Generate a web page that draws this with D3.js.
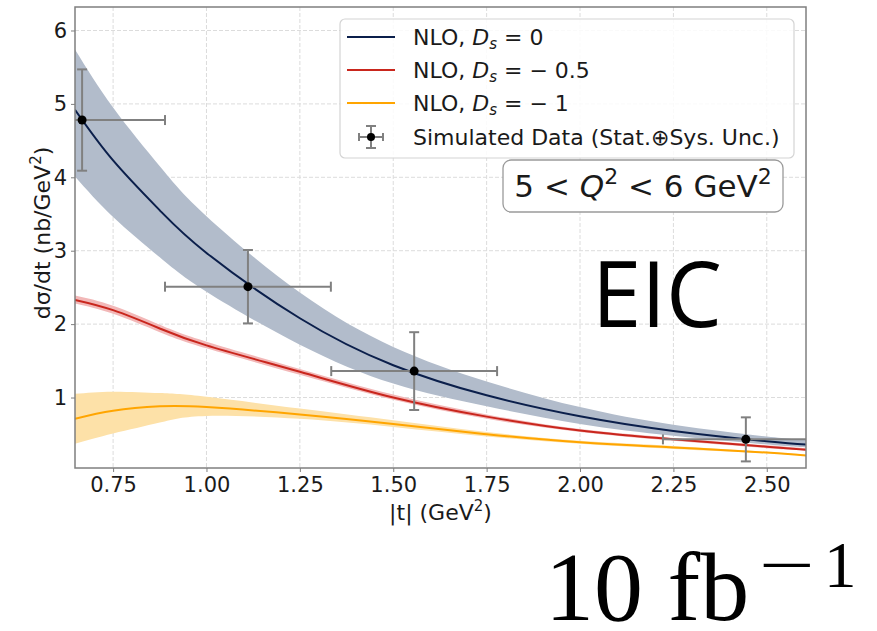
<!DOCTYPE html>
<html>
<head>
<meta charset="utf-8">
<script src="https://cdn.jsdelivr.net/npm/d3@7"></script>
<style>
  body { margin: 0; background: #fff; }
  text { font-family: "DejaVu Sans", sans-serif; fill: #1a1a1a; }
</style>
</head>
<body>
<svg id="chart" width="877" height="631"></svg>
<script>
const tGrid = [0.648, 0.75, 0.875, 1.0, 1.25, 1.5, 1.75, 2.0, 2.25, 2.5, 2.605];

// NLO, Ds = 0
const ds0Mid = [4.92, 4.23, 3.55, 2.97, 2.08, 1.44, 1.03, 0.745, 0.545, 0.405, 0.36];
const ds0Lo  = [4.01, 3.46, 2.91, 2.44, 1.72, 1.19, 0.88, 0.64, 0.48, 0.36, 0.32];
const ds0Hi  = [5.74, 4.95, 4.15, 3.47, 2.43, 1.69, 1.22, 0.87, 0.63, 0.47, 0.42];

// NLO, Ds = -0.5
const ds05Mid = [2.33, 2.19, 1.94, 1.71, 1.35, 1.00, 0.74, 0.55, 0.43, 0.33, 0.29];
const ds05Lo  = [2.28, 2.14, 1.89, 1.67, 1.31, 0.97, 0.71, 0.53, 0.41, 0.31, 0.28];
const ds05Hi  = [2.39, 2.25, 1.99, 1.76, 1.39, 1.04, 0.77, 0.57, 0.45, 0.35, 0.31];

// NLO, Ds = -1
const ds1Mid = [0.71, 0.82, 0.88, 0.87, 0.77, 0.64, 0.50, 0.39, 0.32, 0.25, 0.21];
const ds1Lo  = [0.37, 0.51, 0.66, 0.75, 0.71, 0.60, 0.47, 0.37, 0.30, 0.24, 0.20];
const ds1Hi  = [1.05, 1.08, 1.06, 1.01, 0.85, 0.69, 0.53, 0.41, 0.34, 0.26, 0.22];

// simulated data
const dataT    = [0.667, 1.111, 1.556, 2.444];
const dataTErr = [0.222, 0.222, 0.222, 0.222];
const dataY    = [4.78, 2.51, 1.36, 0.43];
const dataYErr = [0.69, 0.50, 0.53, 0.30];

const xTicks = [0.75, 1.0, 1.25, 1.5, 1.75, 2.0, 2.25, 2.5];
const yTicks = [1, 2, 3, 4, 5, 6];

const svg = d3.select("#chart");
const pLeft = 75, pRight = 806, pTop = 7, pBottom = 468;

const x = d3.scaleLinear().domain([0.648, 2.605]).range([pLeft, pRight]);
const y = d3.scaleLinear().domain([0.04, 6.32]).range([pBottom, pTop]);

svg.append("clipPath").attr("id", "plotclip")
  .append("rect").attr("x", pLeft).attr("y", pTop)
  .attr("width", pRight - pLeft).attr("height", pBottom - pTop);

// grid
const grid = svg.append("g");
grid.selectAll(".gx").data(xTicks).enter().append("line")
  .attr("x1", d => x(d)).attr("x2", d => x(d))
  .attr("y1", pTop).attr("y2", pBottom)
  .attr("stroke", "#dcdcdc").attr("stroke-dasharray", "4,2");
grid.selectAll(".gy").data(yTicks).enter().append("line")
  .attr("x1", pLeft).attr("x2", pRight)
  .attr("y1", d => y(d)).attr("y2", d => y(d))
  .attr("stroke", "#dcdcdc").attr("stroke-dasharray", "4,2");

const plot = svg.append("g").attr("clip-path", "url(#plotclip)");

function series(mid, lo, hi, line, band) {
  const rows = tGrid.map((t, i) => ({ t: t, m: mid[i], lo: lo[i], hi: hi[i] }));
  plot.append("path").datum(rows)
    .attr("fill", band)
    .attr("d", d3.area().curve(d3.curveNatural)
      .x(d => x(d.t)).y0(d => y(d.lo)).y1(d => y(d.hi)));
  plot.append("path").datum(rows)
    .attr("fill", "none").attr("stroke", line).attr("stroke-width", 2)
    .attr("d", d3.line().curve(d3.curveNatural)
      .x(d => x(d.t)).y(d => y(d.m)));
}

series(ds0Mid, ds0Lo, ds0Hi, "#0b1f4b", "#b2bccb");
series(ds05Mid, ds05Lo, ds05Hi, "#c9261d", "#f2b8b8");
series(ds1Mid, ds1Lo, ds1Hi, "#ffa500", "#fde1a8");

// error bars
const errColor = "#808080";
const pts = dataT.map((t, i) => ({ t: t, dt: dataTErr[i], v: dataY[i], dv: dataYErr[i] }));
const eb = plot.selectAll(".eb").data(pts).enter().append("g");
eb.append("line")
  .attr("x1", d => x(d.t - d.dt)).attr("x2", d => x(d.t + d.dt))
  .attr("y1", d => y(d.v)).attr("y2", d => y(d.v));
eb.append("line")
  .attr("x1", d => x(d.t)).attr("x2", d => x(d.t))
  .attr("y1", d => y(d.v - d.dv)).attr("y2", d => y(d.v + d.dv));
[-1, 1].forEach(s => {
  eb.append("line")
    .attr("x1", d => x(d.t) - 5).attr("x2", d => x(d.t) + 5)
    .attr("y1", d => y(d.v + s * d.dv)).attr("y2", d => y(d.v + s * d.dv));
  eb.append("line")
    .attr("x1", d => x(d.t + s * d.dt)).attr("x2", d => x(d.t + s * d.dt))
    .attr("y1", d => y(d.v) - 5).attr("y2", d => y(d.v) + 5);
});
eb.selectAll("line").attr("stroke", errColor).attr("stroke-width", 2);
eb.append("circle").attr("cx", d => x(d.t)).attr("cy", d => y(d.v))
  .attr("r", 4.5).attr("fill", "#000");

// frame
svg.append("rect").attr("x", pLeft).attr("y", pTop)
  .attr("width", pRight - pLeft).attr("height", pBottom - pTop)
  .attr("fill", "none").attr("stroke", "#7f7f7f").attr("stroke-width", 1.5);

// axes
const xAxis = svg.append("g").attr("transform", `translate(0,${pBottom})`)
  .call(d3.axisBottom(x).tickValues(xTicks).tickFormat(d3.format(".2f")).tickSize(4).tickPadding(5));
const yAxis = svg.append("g").attr("transform", `translate(${pLeft},0)`)
  .call(d3.axisLeft(y).tickValues(yTicks).tickFormat(d3.format("d")).tickSize(4).tickPadding(4));
[xAxis, yAxis].forEach(a => {
  a.select(".domain").remove();
  a.selectAll(".tick line").attr("stroke", "#7f7f7f");
  a.selectAll(".tick text").attr("font-size", 21).attr("font-family", "DejaVu Sans").attr("fill", "#1a1a1a");
});

// axis labels
const xl = svg.append("text").attr("x", (pLeft + pRight) / 2).attr("y", 520)
  .attr("text-anchor", "middle").attr("font-size", 22);
xl.append("tspan").text("|t| (GeV");
xl.append("tspan").attr("font-size", 15).attr("dy", -9).text("2");
xl.append("tspan").attr("dy", 9).text(")");

const yl = svg.append("text")
  .attr("transform", "translate(50,233) rotate(-90)")
  .attr("text-anchor", "middle").attr("font-size", 22);
yl.append("tspan").text("dσ/dt (nb/GeV");
yl.append("tspan").attr("font-size", 15).attr("dy", -9).text("2");
yl.append("tspan").attr("dy", 9).text(")");

// legend
const lg = svg.append("g");
lg.append("rect").attr("x", 340).attr("y", 19).attr("width", 454).attr("height", 139)
  .attr("rx", 5).attr("fill", "#fff").attr("fill-opacity", 0.85)
  .attr("stroke", "#d4d4d4").attr("stroke-width", 1.2);
const legendLabels = [
  { c: "#0b1f4b", v: "0" },
  { c: "#c9261d", v: "− 0.5" },
  { c: "#ffa500", v: "− 1" }
];
const rowY = [37, 70, 103, 137];
legendLabels.forEach((e, i) => {
  lg.append("line").attr("x1", 347).attr("x2", 395)
    .attr("y1", rowY[i]).attr("y2", rowY[i])
    .attr("stroke", e.c).attr("stroke-width", 2);
  const t = lg.append("text").attr("x", 413).attr("y", rowY[i] + 8).attr("font-size", 22);
  t.append("tspan").text("NLO, ");
  t.append("tspan").attr("font-style", "italic").text("D");
  t.append("tspan").attr("font-style", "italic").attr("font-size", 15).attr("dy", 4).text("s");
  t.append("tspan").attr("dy", -4).text(" = " + e.v);
});
// legend errorbar icon
const ic = lg.append("g").attr("stroke", errColor).attr("stroke-width", 2);
ic.append("line").attr("x1", 359).attr("x2", 383).attr("y1", rowY[3]).attr("y2", rowY[3]);
ic.append("line").attr("x1", 371).attr("x2", 371).attr("y1", rowY[3] - 11).attr("y2", rowY[3] + 11);
ic.append("line").attr("x1", 366).attr("x2", 376).attr("y1", rowY[3] - 11).attr("y2", rowY[3] - 11);
ic.append("line").attr("x1", 366).attr("x2", 376).attr("y1", rowY[3] + 11).attr("y2", rowY[3] + 11);
ic.append("line").attr("x1", 359).attr("x2", 359).attr("y1", rowY[3] - 4).attr("y2", rowY[3] + 4);
ic.append("line").attr("x1", 383).attr("x2", 383).attr("y1", rowY[3] - 4).attr("y2", rowY[3] + 4);
lg.append("circle").attr("cx", 371).attr("cy", rowY[3]).attr("r", 4).attr("fill", "#000");
lg.append("text").attr("x", 413).attr("y", rowY[3] + 8).attr("font-size", 22)
  .text("Simulated Data (Stat.⊕Sys. Unc.)");

// Q^2 box
svg.append("rect").attr("x", 503).attr("y", 160).attr("width", 280).attr("height", 52)
  .attr("rx", 8).attr("fill", "#fff").attr("stroke", "#9a9a9a").attr("stroke-width", 1.3);
const q = svg.append("text").attr("x", 643).attr("y", 197)
  .attr("text-anchor", "middle").attr("font-size", 31);
q.append("tspan").text("5 < ");
q.append("tspan").attr("font-style", "italic").text("Q");
q.append("tspan").attr("font-size", 22).attr("dy", -13).text("2");
q.append("tspan").attr("dy", 13).text(" < 6 GeV");
q.append("tspan").attr("font-size", 22).attr("dy", -13).text("2");

// EIC label
svg.append("text").attr("x", 592).attr("y", 327)
  .attr("font-size", 92)
  .attr("textLength", 130).attr("lengthAdjust", "spacingAndGlyphs")
  .style("font-family", "'Open Sans', sans-serif").style("fill", "#000")
  .text("EIC");

// luminosity
const serif = "'Liberation Serif', 'DejaVu Serif', serif";
svg.append("text").attr("x", 545).attr("y", 620)
  .style("font-family", serif).style("fill", "#000")
  .attr("font-size", 98).text("10 fb");
svg.append("text").attr("x", 759).attr("y", 587)
  .style("font-family", serif).style("fill", "#000")
  .attr("font-size", 65).attr("textLength", 56).attr("lengthAdjust", "spacingAndGlyphs")
  .text("−");
svg.append("text").attr("x", 824).attr("y", 587)
  .style("font-family", serif).style("fill", "#000")
  .attr("font-size", 65).text("1");
</script>
</body>
</html>
